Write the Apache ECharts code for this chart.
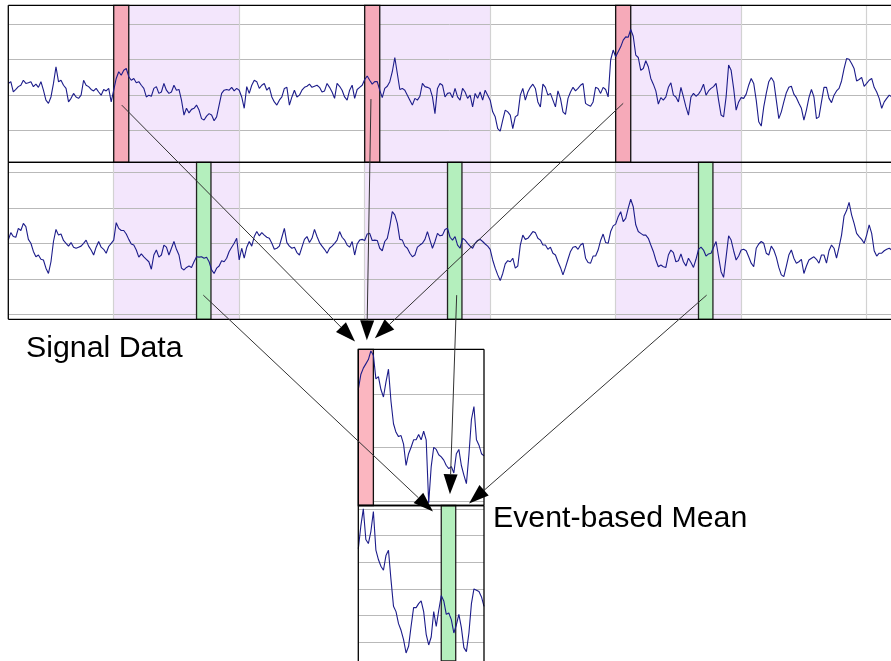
<!DOCTYPE html>
<html>
<head>
<meta charset="utf-8">
<script src="https://cdn.jsdelivr.net/npm/echarts@6/dist/echarts.min.js"></script>
<style>
  html, body { margin: 0; padding: 0; background: #fff; }
  #chart { width: 891px; height: 661px; }
</style>
</head>
<body>
<div id="chart"></div>
<script>
// Two recorded channels, one value every SAMPLE_STEP samples
const SAMPLE_STEP = 2;

const channelA = [
  0.32, 0.37, 0.08, 0.15, 0.23, 0.27, 0.41, 0.32, 0.34, 0.37,
  0.23, 0.30, 0.21, 0.37, 0.13, -0.15, -0.24, -0.06, 0.32, 0.79,
  0.37, 0.41, 0.27, 0.18, -0.20, -0.10, 0.04, -0.06, -0.10, -0.01,
  0.41, 0.27, 0.23, 0.15, 0.11, 0.18, 0.08, -0.01, 0.15, 0.11,
  0.18, -0.20, 0.13, 0.46, 0.65, 0.55, 0.69, 0.74, 0.51, 0.41,
  0.46, 0.34, 0.37, 0.27, 0.18, -0.06, -0.01, -0.04, 0.18, 0.23,
  0.04, 0.08, 0.32, 0.13, 0.04, 0.08, 0.27, 0.13, 0.15, -0.15,
  -0.57, -0.38, -0.51, -0.41, -0.38, -0.29, -0.43, -0.67, -0.71, -0.60,
  -0.53, -0.57, -0.73, -0.62, -0.29, 0.04, 0.13, 0.15, 0.13, 0.21,
  0.11, 0.18, 0.13, -0.06, -0.38, 0.23, 0.04, 0.27, 0.41, 0.37,
  0.18, 0.27, 0.32, 0.13, 0.21, -0.06, -0.20, -0.29, -0.15, -0.06,
  0.18, 0.21, -0.29, -0.06, 0.13, -0.06, -0.01,
  0.13, 0.21, 0.24, 0.30, 0.21, 0.24, 0.27, 0.21, 0.08, 0.11,
  0.32, 0.21, 0.08, -0.10, 0.32, 0.24, 0.13, -0.06, -0.15, 0.13,
  0.27, -0.10, 0.15, 0.21, 0.27, 0.43, 0.53, 0.41, 0.30, 0.37,
  0.37, 0.13, -0.08, 0.18, 0.24, 0.37, 0.65, 1.05, 0.60, 0.15,
  0.18, 0.13, -0.01, -0.15, -0.29, -0.10, -0.15, -0.04, 0.32, 0.23,
  0.21, 0.18, -0.06, -0.53, 0.18, 0.32, 0.27, -0.06, 0.04, 0.06,
  -0.08, 0.18, -0.06, -0.15, 0.18, 0.08, -0.10, -0.01, -0.34, 0.04,
  -0.10, 0.08, -0.15, 0.13, -0.01, -0.15, -0.48, -0.62, -0.95, -1.02,
  -0.71, -0.43, -0.48, -0.57, -0.95, -0.62, -0.57, -0.01, 0.18, -0.15,
  0.08, 0.21, 0.30, 0.18, -0.20, -0.34, 0.30, 0.21, -0.01, 0.04,
  -0.15, -0.34, 0.11, -0.10, -0.48, -0.55, -0.10, 0.08, 0.21, 0.11,
  0.18, 0.27, 0.32, -0.24, -0.29,
  -0.32, -0.20, 0.21, 0.18, 0.04, 0.21, 0.15, -0.06, 0.98, 1.26,
  1.07, 1.21, 1.35, 1.54, 1.63, 1.62, 1.84, 1.65, 1.12, 1.05,
  0.69, 0.74, 0.96, 0.79, 0.46, 0.30, 0.11, -0.26, -0.08, -0.15,
  -0.06, 0.21, 0.34, -0.01, -0.06, -0.20, 0.21, -0.06, -0.34, -0.57,
  -0.06, 0.04, -0.04, 0.02, 0.13, 0.30, -0.01, 0.11, 0.18, 0.23,
  0.32, -0.15, -0.57, -0.62, -0.06, 0.84, 0.69, 0.18, -0.43, -0.20,
  -0.08, -0.10, 0.02, 0.27, 0.46, 0.32, -0.15, -0.76, -0.88, -0.34,
  0.04, 0.37, 0.49, 0.37, -0.15, -0.67, -0.48, -0.20, 0.06, 0.21,
  0.24, 0.02, -0.08, -0.24, -0.38, -0.71, -0.43, -0.08, 0.15, -0.06,
  -0.67, -0.62, -0.20, 0.21, 0.21, -0.10, -0.22, -0.01, 0.11, 0.18,
  0.39, 0.74, 1.02, 1.00, 0.88, 0.74, 0.39, 0.43, 0.49, 0.24,
  0.32, 0.41, 0.46, 0.21, 0.08, -0.10, -0.38, -0.20, -0.10, -0.01,
  -0.06, 0.02
];

const channelB = [
  0.09, 0.30, 0.19, 0.17, 0.42, 0.36, 0.56, 0.47, 0.11, 0,
  -0.23, -0.38, -0.33, -0.45, -0.47, -0.70, -0.85, -0.52, 0.05, 0.39,
  0.23, 0.26, 0.08, 0, -0.08, 0.02, -0.11, -0.14, -0.11, -0.08,
  0, 0.09, -0.08, -0.19, -0.33, -0.11, 0.05, -0.11, -0.17, -0.28,
  -0.09, 0, 0.09, 0.58, 0.42, 0.36, 0.36, 0.26, 0.11, -0.02,
  -0.05, -0.19, -0.39, -0.30, -0.38, -0.45, -0.52, -0.73, -0.33, -0.19,
  -0.39, -0.33, -0.05, -0.11, -0.33, -0.14, 0.05, -0.17, -0.33, -0.70,
  -0.75, -0.68, -0.64, -0.68, -0.52, -0.38, -0.39, -0.38, -0.42, -0.39,
  -0.52, -0.75, -0.85, -0.70, -0.64, -0.49, -0.52, -0.42, -0.23, -0.11,
  0, 0.14, -0.47, -0.14, -0.42, -0.11, 0.05, -0.08, 0.19, 0.33,
  0.21, 0.30, 0.23, 0.17, 0.14, 0, -0.17, -0.14, -0.08, 0.17,
  0.42, 0.02, -0.08, -0.14, -0.11, -0.26, -0.33,
  -0.11, 0.11, 0.19, 0.02, 0.14, 0.39, 0.19, 0.02, -0.08, -0.17,
  -0.28, -0.14, -0.08, 0, 0.09, 0.33, 0.17, 0.09, -0.05, -0.11,
  0.05, -0.33, -0.02, 0.09, 0.11, 0.08, 0.26, 0.28, 0.08, 0.09,
  0.08, -0.14, -0.21, 0.05, 0.14, 0.47, 0.89, 0.80, 0.56, 0.11,
  0.09, -0.08, -0.14, -0.28, -0.38, -0.33, -0.11, -0.05, 0, 0.11,
  0.33, 0.09, -0.14, 0.05, 0.28, 0.21, 0.23, 0.39, 0.42, 0.17,
  0.09, 0.19, -0.05, -0.14, 0.14, 0.09, 0, -0.08, -0.14, 0,
  0.08, 0.11, 0.05, -0.02, -0.08, -0.17, -0.47, -0.70, -0.89, -1.05,
  -0.85, -0.58, -0.49, -0.52, -0.42, -0.70, -0.64, -0.05, 0.23, 0.11,
  0.14, 0.23, 0.33, 0.30, 0.14, 0.09, -0.05, -0.05, -0.17, -0.11,
  -0.28, -0.33, -0.52, -0.68, -0.89, -0.68, -0.45, -0.23, -0.11, -0.09,
  -0.17, -0.05, 0, -0.42, -0.54,
  -0.56, -0.36, -0.36, -0.19, 0.08, 0.26, 0.02, 0, 0.33, 0.49,
  0.54, 0.75, 0.89, 0.61, 0.70, 0.99, 1.24, 1.03, 0.52, 0.33,
  0.28, 0.23, 0.23, 0.14, -0.05, -0.23, -0.47, -0.66, -0.61, -0.66,
  -0.68, -0.33, -0.19, -0.26, -0.52, -0.49, -0.30, -0.52, -0.64, -0.42,
  -0.54, -0.68, -0.45, -0.17, -0.11, -0.19, -0.36, -0.30, -0.28, -0.11,
  0.05, -0.38, -0.80, -0.96, -0.39, 0.21, 0.09, -0.21, -0.47, -0.36,
  -0.19, -0.17, -0.21, -0.38, -0.56, -0.66, -0.14, -0.02, 0.05, 0,
  -0.28, -0.33, -0.08, -0.19, -0.39, -0.68, -0.89, -0.94, -0.64, -0.33,
  -0.19, -0.42, -0.56, -0.52, -0.45, -0.85, -0.64, -0.47, -0.42, -0.38,
  -0.45, -0.56, -0.33, -0.33, -0.56, -0.21, -0.05, -0.14, -0.42, -0.11,
  0.23, 0.77, 0.92, 1.15, 0.80, 0.56, 0.28, 0.19, 0.11, 0,
  0.23, 0.52, 0.28, -0.21, -0.36, -0.28, -0.28, -0.21, -0.17, -0.14,
  -0.19, -0.17
];

// Event-locked means over one window
const meanA = [
  0.54, 0.68, 0.74, 0.78, 0.82, 0.90, 0.86, 0.64, 0.66, 0.54,
  0.47, 0.61, 0.73, 0.43, 0.22, 0.14, 0.10, 0.11, 0.03, -0.17,
  -0.06, 0, 0.07, 0.07, 0.12, 0.07, 0.15, 0.07, -0.52, -0.18,
  0, -0.02, -0.07, -0.09, -0.12, -0.17, -0.20, -0.18, -0.24, -0.06,
  -0.02, -0.17, -0.26, -0.34, -0.07, 0.26, 0.38, 0.07, 0.02, -0.06,
  -0.08
];
const meanB = [
  0.30, 0.47, 0.60, 0.37, 0.34, 0.43, 0.58, 0.29, 0.22, 0.17,
  0.14, 0.25, 0.29, 0.07, -0.13, -0.17, -0.26, -0.31, -0.38, -0.48,
  -0.43, -0.28, -0.14, -0.14, -0.11, -0.09, -0.17, -0.34, -0.42, -0.36,
  -0.17, -0.28, -0.16, -0.05, -0.09, -0.19, -0.18, -0.23, -0.33, -0.27,
  -0.19, -0.29, -0.44, -0.47, -0.33, -0.11, 0.00, -0.01, -0.02, -0.06,
  -0.13
];

// Events (in samples)
const eventOnsets = [84, 284, 484];          // trigger events on channel A
const responseOffset = 66;                   // second event, relative to trigger
const windowLength = 100;
const triggerWidth = 12;
const responseWidth = 11.5;
const timeGridLines = [84, 184, 284, 384, 484, 584, 684];

// Amplitude grid lines per panel
const gridA = [-1, 0, 1, 2];
const gridB = [-2, -1, 0, 1, 2];
const gridMeanA = [-0.5, 0, 0.5];
const gridMeanB = [-0.4, -0.2, 0, 0.2, 0.4, 0.6];

// Arrows: [gridIndex, sample, amplitude] -> [gridIndex, sample, amplitude]
const arrows = [
  { from: [0, 90.4, -0.29], to: [2, -2.6, 0.99] },
  { from: [0, 289, -0.12], to: [2, 6.8, 1.00] },
  { from: [0, 490, -0.24], to: [2, 13.2, 1.02] },
  { from: [1, 155.4, -1.46], to: [3, 59.4, 0.58] },
  { from: [1, 357.3, -1.46], to: [3, 72.9, 0.71] },
  { from: [1, 556.5, -1.46], to: [3, 88.1, 0.64] }
];

// Which sides of each panel carry a frame line
const panelFrames = [
  { grid: 0, sides: 'tlb' },
  { grid: 1, sides: 'tlb' },
  { grid: 2, sides: 'tlbr' },
  { grid: 3, sides: 'tlr' }
];

const LINE_COLOR = '#1c1c8a';
const GRID_COLOR = '#b9b9b9';
const VGRID_COLOR = '#d2d2d2';
const BAND_COLOR = '#f3e6fc';
const PINK = '#f6aab9';
const PINK_LIGHT = '#fbb6c0';
const GREEN = '#b4efbd';

const toPairs = arr => arr.map((v, i) => [i * SAMPLE_STEP, v]);

function hLines(values) {
  return values.map(v => ({ yAxis: v, lineStyle: { color: GRID_COLOR, width: 1, type: 'solid' } }));
}
function vLines(values) {
  return values.map(v => ({ xAxis: v, lineStyle: { color: VGRID_COLOR, width: 1.2, type: 'solid' } }));
}
function area(x0, x1, fill, border) {
  return [{ xAxis: x0, itemStyle: { color: fill, borderColor: border, borderWidth: border ? 1.3 : 0 } }, { xAxis: x1 }];
}

const markLineBase = { silent: true, symbol: ['none', 'none'], label: { show: false }, animation: false, z: 2 };

const bandsA = eventOnsets.map(t => area(t, t + windowLength, BAND_COLOR, null));
const triggerBars = eventOnsets.map(t => area(t, t + triggerWidth, PINK, '#111'));
const responseBars = eventOnsets.map(t => area(t + responseOffset, t + responseOffset + responseWidth, GREEN, '#222'));

const gridBase = { show: false };

function signalSeries(idx, data, lines, bars) {
  return {
    type: 'line', xAxisIndex: idx, yAxisIndex: idx,
    data: data, symbol: 'none', showSymbol: false, z: 4,
    lineStyle: { color: LINE_COLOR, width: 1.1 },
    silent: true, animation: false,
    markLine: Object.assign({}, markLineBase, { data: lines }),
    markArea: { silent: true, z: 3, label: { show: false }, data: bars }
  };
}
function bandSeries(idx, bands) {
  return {
    type: 'line', xAxisIndex: idx, yAxisIndex: idx, data: [], silent: true,
    markArea: { silent: true, z: 1, label: { show: false }, data: bands }
  };
}

const hiddenX = (min, max, g) => ({ type: 'value', gridIndex: g, min, max, show: false });
const hiddenY = (min, max, g) => ({ type: 'value', gridIndex: g, min, max, show: false });

const chart = echarts.init(document.getElementById('chart'), null, { renderer: 'canvas' });

chart.setOption({
  animation: false,
  backgroundColor: '#fff',
  grid: [
    Object.assign({ left: 8.3, top: 5.3, width: 882.7, height: 157 }, gridBase),
    Object.assign({ left: 8.3, top: 162.3, width: 882.7, height: 157 }, gridBase),
    Object.assign({ left: 358.3, top: 349.3, width: 125.7, height: 156.2 }, gridBase),
    Object.assign({ left: 358.3, top: 505.5, width: 125.7, height: 155.5 }, gridBase)
  ],
  xAxis: [
    hiddenX(0, 703.4, 0), hiddenX(0, 703.4, 1),
    hiddenX(0, windowLength, 2), hiddenX(0, windowLength, 3)
  ],
  yAxis: [
    hiddenY(-1.90, 2.52, 0), hiddenY(-2.14, 2.28, 1),
    hiddenY(-0.544, 0.916, 2), hiddenY(-0.540, 0.625, 3)
  ],
  series: [
    bandSeries(0, bandsA),
    bandSeries(1, bandsA),
    signalSeries(0, toPairs(channelA), hLines(gridA).concat(vLines(timeGridLines)), triggerBars),
    signalSeries(1, toPairs(channelB), hLines(gridB).concat(vLines(timeGridLines)), responseBars),
    signalSeries(2, toPairs(meanA), hLines(gridMeanA), [area(0, triggerWidth, PINK_LIGHT, '#111')]),
    signalSeries(3, toPairs(meanB), hLines(gridMeanB), [area(responseOffset, responseOffset + responseWidth, GREEN, '#222')])
  ]
});

const overlay = [];

// Panel frames, placed from each grid's own axis extents
panelFrames.forEach(f => {
  const xa = chart.getModel().getComponent('xAxis', f.grid).axis.scale.getExtent();
  const ya = chart.getModel().getComponent('yAxis', f.grid).axis.scale.getExtent();
  const tl = chart.convertToPixel({ gridIndex: f.grid }, [xa[0], ya[1]]);
  const br = chart.convertToPixel({ gridIndex: f.grid }, [xa[1], ya[0]]);
  const seg = (x1, y1, x2, y2) => overlay.push({
    type: 'line', silent: true, z: 9,
    shape: { x1, y1, x2, y2 }, style: { stroke: '#000', lineWidth: 1.3 }
  });
  if (f.sides.includes('t')) seg(tl[0], tl[1], br[0], tl[1]);
  if (f.sides.includes('b')) seg(tl[0], br[1], br[0], br[1]);
  if (f.sides.includes('l')) seg(tl[0], tl[1], tl[0], br[1]);
  if (f.sides.includes('r')) seg(br[0], tl[1], br[0], br[1]);
});

// Arrows linking each event window to its averaged panel
const HEAD_LEN = 20;
const HEAD_HALF = 7;
arrows.forEach(a => {
  const p0 = chart.convertToPixel({ gridIndex: a.from[0] }, [a.from[1], a.from[2]]);
  const p1 = chart.convertToPixel({ gridIndex: a.to[0] }, [a.to[1], a.to[2]]);
  const dx = p1[0] - p0[0], dy = p1[1] - p0[1];
  const len = Math.hypot(dx, dy);
  const ux = dx / len, uy = dy / len;
  const bx = p1[0] - ux * HEAD_LEN, by = p1[1] - uy * HEAD_LEN;
  overlay.push({
    type: 'line', silent: true, z: 10,
    shape: { x1: p0[0], y1: p0[1], x2: bx, y2: by },
    style: { stroke: '#333', lineWidth: 1 }
  });
  overlay.push({
    type: 'polygon', silent: true, z: 11,
    shape: { points: [[p1[0], p1[1]], [bx - uy * HEAD_HALF, by + ux * HEAD_HALF], [bx + uy * HEAD_HALF, by - ux * HEAD_HALF]] },
    style: { fill: '#000' }
  });
});

// Captions
overlay.push({
  type: 'text', silent: true, z: 12, x: 26, y: 349,
  style: { text: 'Signal Data', font: '30.3px "Liberation Sans", Arial, sans-serif', fill: '#000',
    align: 'left', verticalAlign: 'middle', textAlign: 'left', textVerticalAlign: 'middle' }
});
overlay.push({
  type: 'text', silent: true, z: 12, x: 493, y: 519,
  style: { text: 'Event-based Mean', font: '30.3px "Liberation Sans", Arial, sans-serif', fill: '#000',
    align: 'left', verticalAlign: 'middle', textAlign: 'left', textVerticalAlign: 'middle' }
});

chart.setOption({ graphic: overlay });
</script>
</body>
</html>
